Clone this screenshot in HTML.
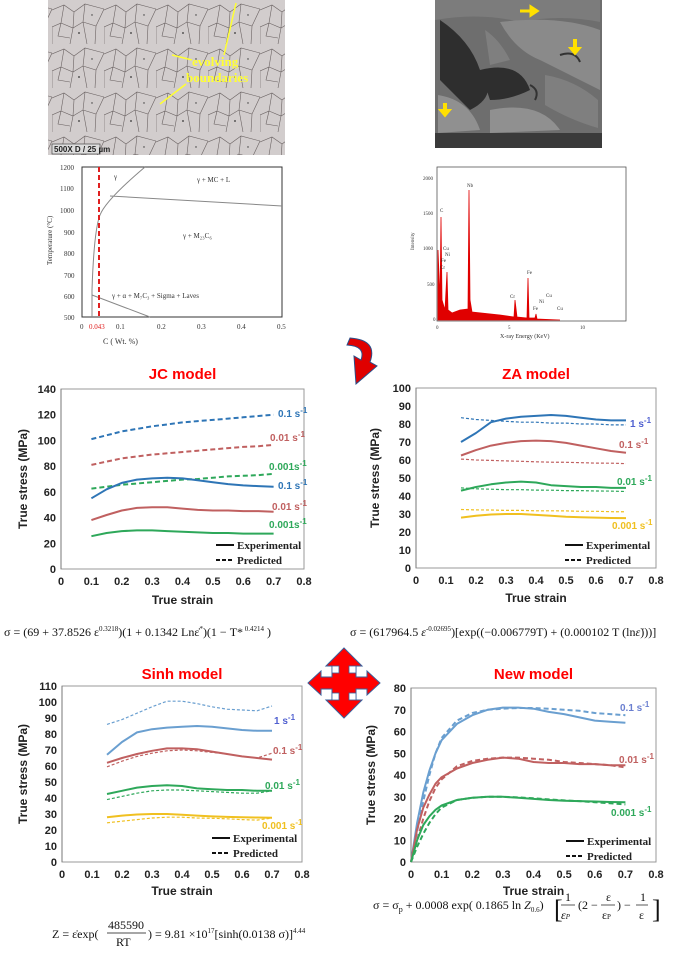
<!DOCTYPE html>
<html><head><meta charset="utf-8"><style>
html,body{margin:0;padding:0;background:#fff;}
svg{display:block;font-family:"Liberation Sans",sans-serif;}
.tk{font-size:11px;font-weight:bold;fill:#222;}
.tt{font-size:12px;font-weight:bold;fill:#222;}
.ttl{font-size:15px;font-weight:bold;fill:#f00;}
.lg{font-family:"Liberation Serif",serif;font-size:11px;font-weight:bold;fill:#222;}
.sl{font-size:10px;font-weight:bold;}
.eq{font-family:"Liberation Serif",serif;font-size:12px;fill:#111;}
.sm{font-family:"Liberation Serif",serif;font-size:7px;fill:#333;}
</style></head><body>
<svg id="root" width="685" height="956" viewBox="0 0 685 956">
<defs>
<pattern id="grains" width="52" height="44" patternUnits="userSpaceOnUse">
<rect width="52" height="44" fill="#d2cdcd"/>
<path d="M0 10 L12 5 L22 12 L33 4 L52 9 M12 5 L9 23 L0 27 M9 23 L21 28 L22 12 M21 28 L31 22 L33 4 M31 22 L44 26 L52 9 M44 26 L43 44 M21 28 L18 44 M0 27 L0 44 M31 22 L35 44 M9 23 L6 36 L18 38" stroke="#6a6262" stroke-width="0.6" fill="none"/>
<circle cx="27" cy="33" r="0.9" fill="#333"/><circle cx="40" cy="15" r="0.7" fill="#333"/>
</pattern>
</defs>
<g>
<rect x="48" y="0" width="237" height="155" fill="url(#grains)"/>
<rect x="52" y="144" width="48" height="10" fill="#ddd" stroke="#333" stroke-width="0.6"/>
<text x="54" y="152" style="font-size:8px;font-weight:bold;fill:#222">500X D / 25 µm</text>
<text x="192" y="66" style="font-family:'Liberation Serif',serif;font-size:13px;font-weight:bold;fill:#ffff33">evolving</text>
<text x="186" y="82" style="font-family:'Liberation Serif',serif;font-size:13px;font-weight:bold;fill:#ffff33">boundaries</text>
<path d="M192 60 L172 55 M186 84 L160 104 M224 55 L236 3" stroke="#ffff33" stroke-width="1.5"/>
</g>
<g>
<rect x="82" y="167" width="200" height="150" fill="#fff" stroke="#333"/>
<path d="M92 317 L92 290 Q94 230 100 215 Q106 200 145 167 M110 196 L282 206 M92 295 L150 317" stroke="#888" fill="none"/>
<line x1="99" y1="167" x2="99" y2="317" stroke="#e02020" stroke-width="2" stroke-dasharray="5,3"/>
<g class="sm">
<text x="60" y="170">1200</text><text x="60" y="191">1100</text><text x="60" y="213">1000</text><text x="64" y="235">900</text><text x="64" y="256">800</text><text x="64" y="278">700</text><text x="64" y="299">600</text><text x="64" y="320">500</text>
<text x="80" y="329">0</text><text x="89" y="329" fill="#e02020">0.043</text><text x="116" y="329">0.1</text><text x="157" y="329">0.2</text><text x="197" y="329">0.3</text><text x="237" y="329">0.4</text><text x="277" y="329">0.5</text>
<text x="197" y="182">γ + MC + L</text><text x="183" y="238">γ + M₂₃C₆</text><text x="112" y="298">γ + α + M₇C₃ + Sigma + Laves</text><text x="114" y="179">γ</text>
<text x="103" y="344" style="font-size:8px">C ( Wt. %)</text>
<text transform="translate(52,265) rotate(-90)" style="font-size:7px">Temperature (°C)</text>
</g>
</g>
<g>
<rect x="435" y="0" width="167" height="148" fill="#6e6e6e"/>
<path d="M435 0 L600 0 L600 22 Q560 14 520 22 Q480 12 435 20 Z" fill="#7c7c7c"/>
<path d="M440 20 Q470 40 480 70 Q500 95 470 110 Q450 90 440 80 Z M480 70 Q520 60 530 90 Q510 100 490 100 Z" fill="#2e2e2e"/>
<path d="M500 22 Q560 15 600 30 L600 90 Q560 70 540 60 Q515 50 500 22 Z" fill="#8a8a8a"/>
<path d="M485 30 Q500 40 510 60 L490 65 Z M545 75 Q575 80 598 100 L598 128 Q570 120 545 105 Z" fill="#7f7f7f"/>
<path d="M438 95 Q470 100 480 130 L438 133 Z M490 110 Q540 100 560 130 L490 133 Z" fill="#909090"/>
<path d="M530 85 Q540 90 535 100 M560 55 Q575 50 580 62" stroke="#333" stroke-width="2" fill="none"/>
<rect x="435" y="133" width="167" height="15" fill="#3a3a3a"/>
<path d="M520 11 L531 11 L531 7 L537 11 L531 15 L531 11" fill="#ffe000" stroke="#ffe000" stroke-width="3"/>
<path d="M574 40 L574 48 L570 48 L575 54 L580 48 L576 48 L576 40 Z" fill="#ffe000" stroke="#ffe000" stroke-width="2"/>
<path d="M444 104 L444 110 L440 110 L445 116 L450 110 L446 110 L446 104 Z" fill="#ffe000" stroke="#ffe000" stroke-width="2"/>
</g>
<g>
<rect x="437" y="167" width="189" height="154" fill="#fff" stroke="#555" stroke-width="0.8"/>
<path d="M438 320 L438 250 L440 300 L441 217 L442 300 L445 310 L447 272 L448 310 L452 313 L460 310 L468 309 L469 190 L470 300 L472 312 L500 315 L514 317 L515 300 L517 317 L527 318 L528 278 L529 318 L535 318 L536 314 L537 319 L560 320 Z" fill="#e00000" stroke="#e00000" stroke-width="0.8"/>
<g class="sm" style="font-size:5px">
<text x="467" y="187">Nb</text><text x="440" y="212">C</text><text x="443" y="250">Cu</text><text x="445" y="256">Ni</text><text x="441" y="262">Fe</text><text x="440" y="269">Cr</text><text x="527" y="274">Fe</text><text x="510" y="298">Cr</text><text x="546" y="297">Cu</text><text x="539" y="303">Ni</text><text x="533" y="310">Fe</text><text x="557" y="310">Cu</text>
<text x="423" y="180">2000</text><text x="423" y="215">1500</text><text x="423" y="250">1000</text><text x="427" y="286">500</text><text x="433" y="321">0</text><text x="436" y="329">0</text><text x="508" y="329">5</text><text x="580" y="329">10</text>
<text x="500" y="338" style="font-size:6px">X-ray Energy (KeV)</text>
<text transform="translate(414,250) rotate(-90)">Intensity</text>
</g>
</g>
<g>
<path d="M350 338 Q378 340 370 362 L377 366 L356 384 L354 356 L361 360 Q366 346 347 345 Z" fill="#e00000" stroke="#2a4f8a" stroke-width="1"/>
</g>
<g>
<path d="M344 648 L362 666 L356 666 L356 677 L367 677 L367 671 L380 683 L367 695 L367 689 L356 689 L356 700 L362 700 L344 718 L326 700 L332 700 L332 689 L321 689 L321 695 L308 683 L321 671 L321 677 L332 677 L332 666 L326 666 Z" fill="#f00" stroke="#3a5f9a" stroke-width="1"/>
<rect x="332" y="666" width="7" height="7" fill="#fff" stroke="#3a5f9a" stroke-width="0.8"/>
<rect x="349" y="666" width="7" height="7" fill="#fff" stroke="#3a5f9a" stroke-width="0.8"/>
<rect x="332" y="693" width="7" height="7" fill="#fff" stroke="#3a5f9a" stroke-width="0.8"/>
<rect x="349" y="693" width="7" height="7" fill="#fff" stroke="#3a5f9a" stroke-width="0.8"/>
</g>
<text class="eq" x="4" y="636">σ = (69 + 37.8526 ε<tspan dy="-5" style="font-size:7px">0.3218</tspan><tspan dy="5">)(1 + 0.1342 Ln</tspan>ε̇<tspan dy="-5" style="font-size:7px">*</tspan><tspan dy="5">)(1 − T*</tspan><tspan dy="-5" style="font-size:7px"> 0.4214</tspan><tspan dy="5"> )</tspan></text>
<text class="eq" x="350" y="636">σ = (617964.5 <tspan font-style="italic">ε</tspan><tspan dy="-5" style="font-size:7px">-0.02695</tspan><tspan dy="5">)[exp((−0.006779T) + (0.000102 T (ln</tspan><tspan font-style="italic">ε̇</tspan>)))]</text>
<g class="eq">
<text x="52" y="938">Z = ε̇exp(</text>
<text x="108" y="929">485590</text><line x1="107" y1="933" x2="146" y2="933" stroke="#111" stroke-width="0.7"/><text x="116" y="946">RT</text>
<text x="148" y="938">) = 9.81 ×10<tspan dy="-5" style="font-size:7px">17</tspan><tspan dy="5">[sinh(0.0138 σ)]</tspan><tspan dy="-5" style="font-size:7px">4.44</tspan></text>
</g>
<g class="eq">
<text x="373" y="909">σ = σ<tspan dy="3" style="font-size:8px">p</tspan><tspan dy="-3"> + 0.0008 exp( 0.1865 ln </tspan><tspan font-style="italic">Z</tspan><tspan dy="3" style="font-size:7px">0.6</tspan><tspan dy="-3">)</tspan></text>
<text x="554" y="918" style="font-size:26px;font-weight:100">[</text>
<text x="565" y="901">1</text><line x1="561" y1="905" x2="575" y2="905" stroke="#111" stroke-width="0.7"/><text x="561" y="919" font-style="italic">ε<tspan style="font-size:7px">P</tspan></text>
<text x="578" y="909">(2 −</text><text x="606" y="901">ε</text><line x1="601" y1="905" x2="615" y2="905" stroke="#111" stroke-width="0.7"/><text x="602" y="919">ε<tspan style="font-size:7px">P</tspan></text>
<text x="617" y="909">) −</text><text x="640" y="901">1</text><line x1="636" y1="905" x2="648" y2="905" stroke="#111" stroke-width="0.7"/><text x="639" y="919">ε</text>
<text x="652" y="918" style="font-size:26px;font-weight:100">]</text>
</g>
<g id="charts"></g>
</svg>
<script>
// JC model data
const jcX = [0.1,0.15,0.2,0.25,0.3,0.35,0.4,0.45,0.5,0.55,0.6,0.65,0.7];
const jcExp01 = [55,62,67,69.5,70.5,71,70.5,69,67.5,66,65,64.5,64];
const jcPred01 = [101,104,107,109,111,112.5,114,115,116,117,118,119,120];
const jcExp001 = [38,42,45.5,47.5,48,48,47,46,45.5,45.5,45,45,44.5];
const jcPred001 = [81,83.5,86,87.5,89,90,91,92,93,94,95,95.5,96.5];
const jcExp0001 = [25.5,28,29.5,30,30,29.5,29,28.5,28,28,27.5,27.5,27.5];
const jcPred0001 = [62.5,64,65.5,66.5,67.5,68.5,69.5,70,71,72,72.5,73,74];
// ZA model data
const zaX = [0.15,0.2,0.25,0.3,0.35,0.4,0.45,0.5,0.55,0.6,0.65,0.7];
const zaExp1 = [70,75,81,83,84,84.5,85,84.5,83.5,82.5,82,82];
const zaPred1 = [83.5,82.5,82,81.5,81,81,80.5,80.5,80,80,79.5,79.5];
const zaExp01 = [62.5,65.5,68,69.5,70.5,70.8,70.5,69.5,68,66.5,65,64];
const zaPred01 = [60.5,60,59.8,59.5,59.3,59,58.8,58.7,58.5,58.3,58.2,58];
const zaExp001 = [43,45,46.5,47.5,48,47.5,46,45.5,45,45,44.5,44.5];
const zaPred001 = [44.5,44,43.8,43.5,43.5,43.3,43.2,43,43,42.8,42.7,42.5];
const zaExp0001 = [28,29,29.7,30,30,29.5,29,28.5,28.2,28,27.8,27.7];
const zaPred0001 = [32.5,32.3,32.2,32,32,31.8,31.8,31.7,31.5,31.5,31.3,31.2];
// Sinh model data
const shX = [0.15,0.2,0.25,0.3,0.35,0.4,0.45,0.5,0.55,0.6,0.65,0.7];
const shExp1 = [67,75,81,83,84,84.5,85,84.5,83.5,82.5,82,82];
const shPred1 = [86,89,93,97,100.5,100.5,99,97,95.5,95,94.5,97.5];
const shExp01 = [62,65,67.5,69.5,71,71,70.5,69,67.5,66,65,64];
const shPred01 = [59.5,63,66,68,69.5,70,69.5,68.5,67.5,66,65,68];
const shExp001 = [42.5,44.5,46.5,47.5,48,47.5,46,45.5,45,45,44.5,44.5];
const shPred001 = [39,41,43,44.5,45,45,44.5,44,43.5,43,43,44.5];
const shExp0001 = [28,29,29.7,30,30,29.5,29,28.5,28.2,28,27.8,27.7];
const shPred0001 = [24.5,25.5,26.5,27.5,28,28,27.5,27.3,27,26.5,26.2,27.5];
// New model data
const nmX = [0,0.02,0.04,0.06,0.08,0.1,0.15,0.2,0.25,0.3,0.35,0.4,0.45,0.5,0.55,0.6,0.65,0.7];
const nmExp01 = [0,18,32,42,50,56,63.5,67.5,70,71,71,70.5,69,68,66.5,65,64.5,64];
const nmPred01 = [0,14,28,40,50,57,65,68.5,70,70.5,70.8,70.8,70.5,70,69.5,68.5,68,67.5];
const nmExp001 = [0,15,25,31,36,39,43,45.5,47,48,47.5,46,45.5,45.5,45,45,44.5,44.5];
const nmPred001 = [0,10,20,28,34,38,44,46.5,47.5,48,48,47.5,47,46,45.5,45,44.5,43.5];
const nmExp0001 = [0,10,17,21,24,26,28.5,29.5,30,30,29.5,29,28.5,28.2,28,27.8,27.6,27.5];
const nmPred0001 = [0,7,13,18,22,25,28.5,29.5,30,30,29.7,29.3,28.8,28.3,28,27.5,27,26.5];
const xTicks = ["0","0.1","0.2","0.3","0.4","0.5","0.6","0.7","0.8"];

const NS = "http://www.w3.org/2000/svg";
const host = document.getElementById('charts');
function mk(tag, attrs, parent){const e=document.createElementNS(NS,tag);for(const k in attrs)e.setAttribute(k,attrs[k]);parent.appendChild(e);return e;}

function chart(cfg){
  const g = mk('g',{},host);
  
  
  const sx = v => cfg.x0 + (cfg.x1-cfg.x0)*v/0.8;
  const sy = v => cfg.y0 - (cfg.y0-cfg.y1)*v/cfg.ymax;
  const t = mk('text',{x:(cfg.x0+cfg.x1)/2,y:cfg.titleY,'text-anchor':'middle','class':'ttl'},g);
  t.textContent = cfg.title;
  
  
  const frame = mk('rect',{x:cfg.x0,y:cfg.y1,width:cfg.x1-cfg.x0,height:cfg.y0-cfg.y1,fill:'none',stroke:'#999','stroke-width':1},g);
  
  
  mk('line',{x1:cfg.x0,y1:cfg.y1,x2:cfg.x0,y2:cfg.y0,stroke:'#777'},g);
  for(let v=0; v<=cfg.ymax; v+=cfg.ystep){
    const lb = mk('text',{x:cfg.x0-5,y:sy(v)+4,'text-anchor':'end','class':'tk'},g);
    lb.textContent = v;
    
    
  }
  xTicks.forEach((s,i)=>{
    const lb = mk('text',{x:sx(i*0.1),y:cfg.y0+16,'text-anchor':'middle','class':'tk'},g);
    lb.textContent = s;
    
    
  });
  const xt = mk('text',{x:(cfg.x0+cfg.x1)/2,y:cfg.xtY,'text-anchor':'middle','class':'tt'},g);
  xt.textContent = 'True strain';
  
  
  const yc = (cfg.y0+cfg.y1)/2;
  const yt = mk('text',{transform:`translate(${cfg.ytX},${yc}) rotate(-90)`,'text-anchor':'middle','class':'tt'},g);
  yt.textContent = 'True stress (MPa)';
  
  
  cfg.series.forEach(s=>{
    const d = s.y.map((v,i)=>(i?'L':'M')+sx(cfg.xs[i]).toFixed(1)+' '+sy(v).toFixed(1)).join(' ');
    const p = mk('path',{d:d,fill:'none',stroke:s.c,'stroke-width':2,'stroke-linejoin':'round'},g);
    if(s.dash) p.setAttribute('stroke-dasharray', s.dash===2?'3,2':'5,3');
    if(s.dash===2) p.setAttribute('stroke-width',1.2);
    
    
  });
  cfg.labels.forEach(l=>{
    const tx = mk('text',{x:l.x,y:l.y,'class':'sl',fill:l.c},g);
    tx.innerHTML = l.t + '<tspan dy="-4" style="font-size:8px">-1</tspan>';
    
    
  });
  const lx = cfg.legX, ly = cfg.legY;
  mk('line',{x1:lx,y1:ly,x2:lx+18,y2:ly,stroke:'#111','stroke-width':2},g);
  mk('line',{x1:lx,y1:ly+15,x2:lx+18,y2:ly+15,stroke:'#111','stroke-width':2,'stroke-dasharray':'4,2'},g);
  const le = mk('text',{x:lx+21,y:ly+4,'class':'lg'},g); le.textContent='Experimental';
  
  
  const lp = mk('text',{x:lx+21,y:ly+19,'class':'lg'},g); lp.textContent='Predicted';
  
  
}
const B='#2e75b6', R='#c06060', G='#2ea85a', Y='#f0c020', LB='#6a9fd0';
chart({name:'jc-model-chart',title:'JC model',x0:61,x1:304,y0:569,y1:389,ymax:140,ystep:20,titleY:379,xtY:604,ytX:27,xs:jcX,
 legX:216,legY:545,
 series:[{y:jcPred01,c:B,dash:1,n:'jc-pred-0.1'},{y:jcPred001,c:R,dash:1,n:'jc-pred-0.01'},{y:jcPred0001,c:G,dash:1,n:'jc-pred-0.001'},
 {y:jcExp01,c:B,n:'jc-exp-0.1'},{y:jcExp001,c:R,n:'jc-exp-0.01'},{y:jcExp0001,c:G,n:'jc-exp-0.001'}],
 labels:[{x:278,y:417,t:'0.1 s',c:B},{x:270,y:441,t:'0.01 s',c:R},{x:269,y:470,t:'0.001s',c:G},{x:278,y:489,t:'0.1 s',c:B},{x:272,y:510,t:'0.01 s',c:R},{x:269,y:528,t:'0.001s',c:G}]});
chart({name:'za-model-chart',title:'ZA model',x0:416,x1:656,y0:568,y1:388,ymax:100,ystep:10,titleY:379,xtY:602,ytX:379,xs:zaX,
 legX:565,legY:545,
 series:[{y:zaPred1,c:B,dash:2,n:'za-pred-1'},{y:zaPred01,c:R,dash:2,n:'za-pred-0.1'},{y:zaPred001,c:G,dash:2,n:'za-pred-0.01'},{y:zaPred0001,c:Y,dash:2,n:'za-pred-0.001'},
 {y:zaExp1,c:B,n:'za-exp-1'},{y:zaExp01,c:R,n:'za-exp-0.1'},{y:zaExp001,c:G,n:'za-exp-0.01'},{y:zaExp0001,c:Y,n:'za-exp-0.001'}],
 labels:[{x:630,y:427,t:'1 s',c:'#5060d0'},{x:619,y:448,t:'0.1  s',c:R},{x:617,y:485,t:'0.01 s',c:G},{x:612,y:529,t:'0.001 s',c:Y}]});
chart({name:'sinh-model-chart',title:'Sinh model',x0:62,x1:302,y0:862,y1:686,ymax:110,ystep:10,titleY:679,xtY:895,ytX:27,xs:shX,
 legX:212,legY:838,
 series:[{y:shPred1,c:LB,dash:2,n:'sinh-pred-1'},{y:shPred01,c:R,dash:2,n:'sinh-pred-0.1'},{y:shPred001,c:G,dash:2,n:'sinh-pred-0.01'},{y:shPred0001,c:Y,dash:2,n:'sinh-pred-0.001'},
 {y:shExp1,c:LB,n:'sinh-exp-1'},{y:shExp01,c:R,n:'sinh-exp-0.1'},{y:shExp001,c:G,n:'sinh-exp-0.01'},{y:shExp0001,c:Y,n:'sinh-exp-0.001'}],
 labels:[{x:274,y:724,t:'1 s',c:'#5060d0'},{x:273,y:754,t:'0.1 s',c:R},{x:265,y:789,t:'0.01 s',c:G},{x:262,y:829,t:'0.001 s',c:Y}]});
chart({name:'new-model-chart',title:'New model',x0:411,x1:656,y0:862,y1:688,ymax:80,ystep:10,titleY:679,xtY:895,ytX:375,xs:nmX,
 legX:566,legY:841,
 series:[{y:nmPred01,c:LB,dash:1,n:'new-pred-0.1'},{y:nmPred001,c:R,dash:1,n:'new-pred-0.01'},{y:nmPred0001,c:G,dash:1,n:'new-pred-0.001'},
 {y:nmExp01,c:LB,n:'new-exp-0.1'},{y:nmExp001,c:R,n:'new-exp-0.01'},{y:nmExp0001,c:G,n:'new-exp-0.001'}],
 labels:[{x:620,y:711,t:'0.1 s',c:'#6a7fd0'},{x:619,y:763,t:'0.01 s',c:R},{x:611,y:816,t:'0.001 s',c:G}]});
</script>
</body></html>
